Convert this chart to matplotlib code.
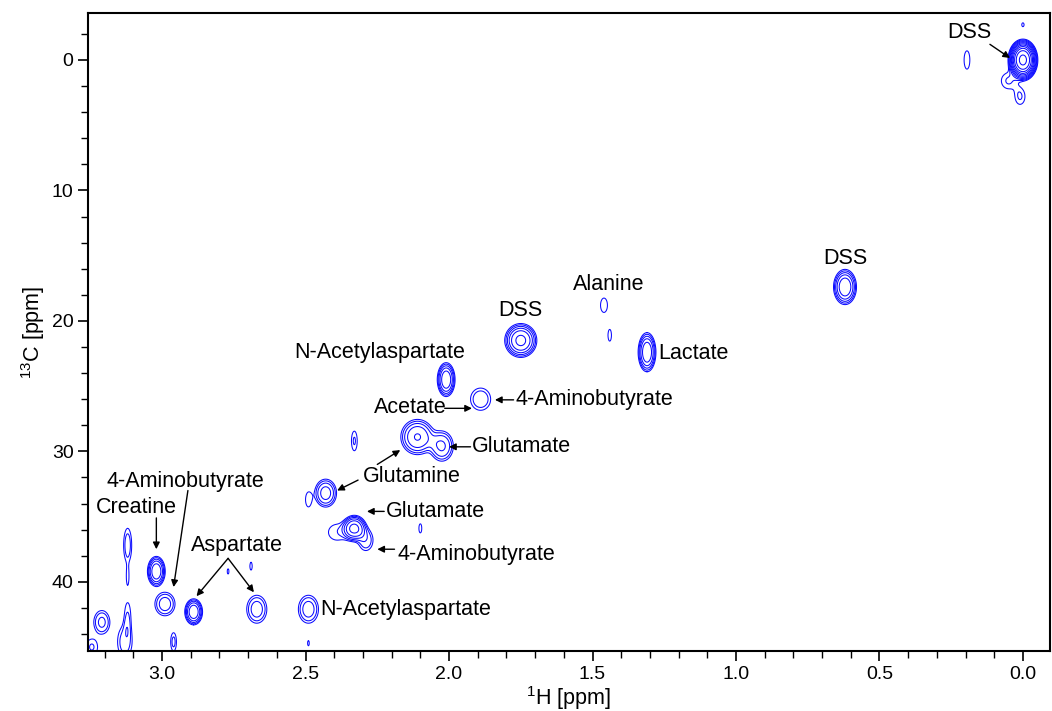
"""
2D 1H-13C HSQC contour plot with metabolite assignments.
"""
import matplotlib
matplotlib.use("Agg")
import matplotlib.pyplot as plt
import numpy as np
from matplotlib.ticker import MultipleLocator, FormatStrFormatter

plt.rcParams["font.family"] = ["Liberation Sans", "DejaVu Sans"]
plt.rcParams["mathtext.fontset"] = "custom"
plt.rcParams["mathtext.rm"] = "Liberation Sans"

# cross peaks: 1H shift, 13C shift, height (in lowest-contour units),
# half width of the outermost contour along 1H and 13C (ppm)
peak_h = [0.00, 0.05, 0.01, 0.195, 0.00, 0.62, 1.75, 1.46, 1.44, 1.31,
          2.01, 1.89, 2.11, 2.025, 2.33, 2.43, 2.49, 2.33, 2.29, 2.39,
          2.10, 3.02, 2.99, 2.89, 2.67, 2.49, 2.69, 2.77, 3.12, 3.12,
          3.13, 3.12, 3.21, 2.96, 2.49, 3.245]
peak_c = [0.0, 1.6, 2.8, 0.0, -2.7, 17.4, 21.5, 18.8, 21.1, 22.4,
          24.5, 26.0, 28.9, 29.6, 29.2, 33.2, 33.7, 35.9, 36.8, 36.2,
          35.9, 39.2, 41.7, 42.3, 42.1, 42.1, 38.8, 39.2, 37.2, 39.7,
          44.6, 42.6, 43.1, 44.6, 44.7, 45.0]
peak_amp = [45, 1.5, 1.5, 1.4, 1.2, 6.0, 7.0, 1.4, 1.2, 6.0,
            6.0, 2.0, 4.5, 3.2, 1.5, 3.6, 1.3, 7.0, 2.0, 1.4,
            1.2, 6.0, 2.6, 6.0, 2.6, 2.6, 1.2, 1.2, 1.8, 1.2,
            1.8, 1.4, 2.3, 1.6, 1.2, 1.5]
peak_wh = [0.052, 0.025, 0.017, 0.010, 0.004, 0.040, 0.056, 0.012, 0.006, 0.031,
           0.031, 0.035, 0.058, 0.040, 0.010, 0.038, 0.010, 0.042, 0.025, 0.030,
           0.005, 0.031, 0.035, 0.031, 0.035, 0.035, 0.004, 0.003, 0.014, 0.004,
           0.025, 0.010, 0.028, 0.010, 0.003, 0.020]
peak_wc = [1.6, 0.6, 0.6, 0.7, 0.15, 1.35, 1.3, 0.55, 0.45, 1.5,
           1.3, 0.85, 1.35, 1.15, 0.75, 1.07, 0.55, 1.0, 0.8, 0.6,
           0.35, 1.15, 0.9, 1.0, 1.07, 1.07, 0.3, 0.2, 1.3, 0.5,
           1.2, 1.0, 0.9, 0.7, 0.2, 0.6]

# assignments: text, text position (1H, 13C), alignment
label_text = ["DSS", "DSS", "DSS", "Alanine", "Lactate", "N-Acetylaspartate",
              "4-Aminobutyrate", "Acetate", "Glutamate", "Glutamine", "Glutamate",
              "4-Aminobutyrate", "N-Acetylaspartate", "Aspartate", "Creatine",
              "4-Aminobutyrate"]
label_h = [0.185, 0.62, 1.75, 1.445, 1.27, 2.24,
           1.77, 2.136, 1.92, 2.13, 2.22,
           2.18, 2.45, 2.74, 3.09, 2.92]
label_c = [-2.1, 15.2, 19.2, 17.2, 22.5, 22.4,
           26.05, 26.6, 29.65, 31.9, 34.6,
           37.9, 42.1, 37.2, 34.3, 32.3]
label_ha = ["center", "center", "center", "center", "left", "center",
            "left", "center", "left", "center", "left",
            "left", "left", "center", "center", "center"]

# arrows: start (1H, 13C) -> end (1H, 13C)
arrow_h0 = [0.115, 1.775, 2.015, 1.925, 2.25, 2.317, 2.226, 2.19, 2.77, 2.77, 3.02, 2.91]
arrow_c0 = [-1.2, 26.05, 26.7, 29.65, 31.0, 32.2, 34.6, 37.5, 38.2, 38.2, 35.1, 33.0]
arrow_h1 = [0.045, 1.84, 1.92, 2.00, 2.17, 2.39, 2.286, 2.25, 2.88, 2.68, 3.02, 2.96]
arrow_c1 = [-0.15, 26.05, 26.7, 29.65, 29.9, 33.0, 34.6, 37.5, 41.1, 40.8, 37.5, 40.4]

SHAPE_P = 1.3      # slightly flat-topped line shape
LEVEL_STEP = 1.45  # ratio between successive contour levels

h_axis = np.arange(-0.1, 3.27, 0.002)
c_axis = np.arange(-3.7, 45.4, 0.04)
H, C = np.meshgrid(h_axis, c_axis)
Z = np.zeros_like(H)
for h0, c0, a, wh, wc in zip(peak_h, peak_c, peak_amp, peak_wh, peak_wc):
    rho2 = ((H - h0) / wh) ** 2 + ((C - c0) / wc) ** 2
    Z += np.exp(np.log(a) * (1.0 - np.minimum(rho2, 50.0) ** SHAPE_P))

levels = LEVEL_STEP ** np.arange(14)

fig = plt.figure(figsize=(10.52, 7.11), dpi=100)
ax = fig.add_axes([0.0837, 0.0844, 0.9143, 0.8973])
ax.contour(H, C, Z, levels=levels, colors="#0a0aff", linewidths=0.75)

for txt, x, y, ha in zip(label_text, label_h, label_c, label_ha):
    ax.text(x, y, txt, ha=ha, va="center", fontsize=15.5)

for x0, y0, x1, y1 in zip(arrow_h0, arrow_c0, arrow_h1, arrow_c1):
    ax.annotate("", xy=(x1, y1), xytext=(x0, y0),
                arrowprops=dict(arrowstyle="-|>", color="black", lw=1.0,
                                mutation_scale=10, shrinkA=0, shrinkB=0))

ax.set_xlim(3.258, -0.094)
ax.set_ylim(45.3, -3.6)
ax.xaxis.set_major_locator(MultipleLocator(0.5))
ax.xaxis.set_minor_locator(MultipleLocator(0.1))
ax.yaxis.set_major_locator(MultipleLocator(10))
ax.yaxis.set_minor_locator(MultipleLocator(2))
ax.xaxis.set_major_formatter(FormatStrFormatter("%.1f"))
ax.tick_params(which="major", direction="out", length=7, width=1.2, labelsize=14)
ax.tick_params(which="minor", direction="out", length=5, width=1.0)
for sp in ax.spines.values():
    sp.set_linewidth(1.5)

ax.set_xlabel("$^{1}$H [ppm]", fontsize=15.5, labelpad=1)
ax.set_ylabel("$^{13}$C [ppm]", fontsize=15.5, labelpad=3)

fig.savefig("out.png", dpi=100, facecolor="white")
